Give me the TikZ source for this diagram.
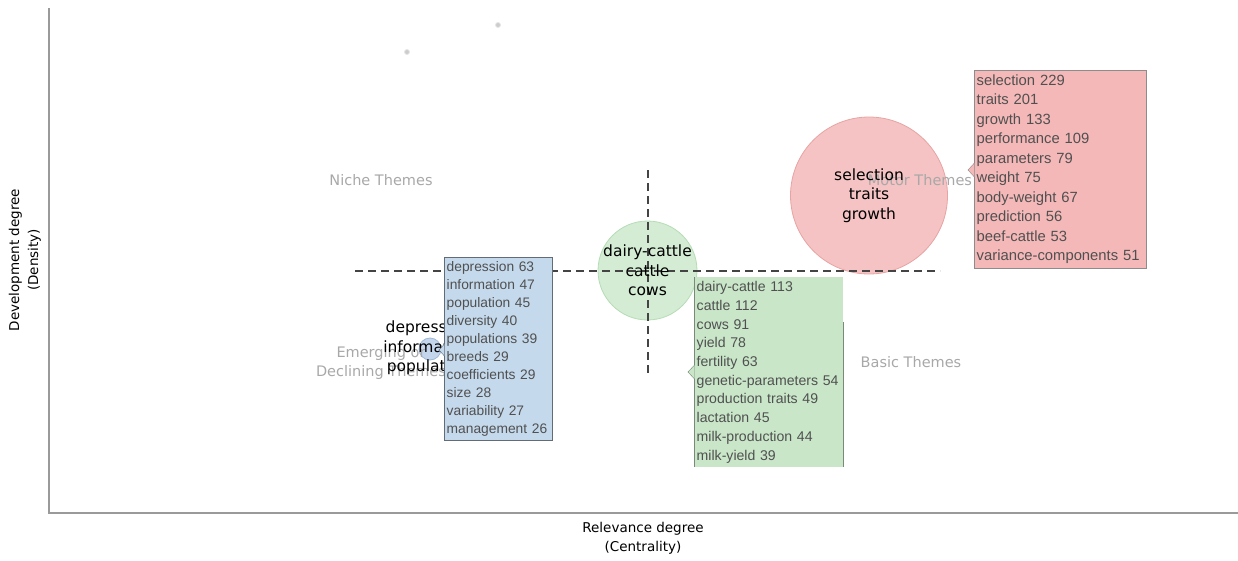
\documentclass[tikz,border=0pt]{standalone}
\usepackage{fontspec}
\setmainfont{Liberation Sans}
\newfontfamily\verd{DejaVu Sans}
\definecolor{axisgray}{HTML}{9A9A9A}
\definecolor{themegray}{HTML}{A8A8A8}
\definecolor{dashgray}{HTML}{444444}
\definecolor{tiptext}{HTML}{505050}
\definecolor{motorfill}{HTML}{F5C3C3}
\definecolor{motordraw}{HTML}{E8A3A3}
\definecolor{motorbox}{HTML}{F4B8B8}
\definecolor{basicfill}{HTML}{D3ECD3}
\definecolor{basicdraw}{HTML}{B6DCB6}
\definecolor{basicbox}{HTML}{C9E6C9}
\definecolor{emergfill}{HTML}{C3D6EC}
\definecolor{emergdraw}{HTML}{9FB8D6}
\definecolor{emergbox}{HTML}{C5D9EC}
\begin{document}
\begin{tikzpicture}[x=1pt,y=-1pt,
    theme/.style={text=themegray,font=\verd\fontsize{14.5}{19}\selectfont,align=center},
    bubble/.style={circle,inner sep=0pt,line width=0.8pt},
    bubbletext/.style={font=\verd\fontsize{15.5}{19.5}\selectfont,align=center},
    tipbox/.style={anchor=north west,inner xsep=2.5pt,inner ysep=3pt,align=left,text=tiptext},
    axislabel/.style={font=\verd\fontsize{13.5}{19}\selectfont,align=center}]
    \useasboundingbox (0,0) rectangle (1238,560);

    %Axes
    \coordinate (origin) at (49,513);
    \coordinate (ytop) at (49,8);
    \coordinate (xend) at (1238,513);
    \draw[axisgray,line width=1.5pt] (ytop) -- (origin) -- (xend);
    \node[axislabel,rotate=90] (ylabel) at (25,260) {Development degree\\(Density)};
    \node[axislabel] (xlabel) at (643,538) {Relevance degree\\(Centrality)};

    %Bubbles
    \node[bubble,fill=motorfill,draw=motordraw,minimum size=157] (motor) at (869,195.5) {};
    \node[bubble,fill=basicfill,draw=basicdraw,minimum size=99] (basic) at (647.5,270.5) {};
    \node[bubble,fill=emergfill,draw=emergdraw,minimum size=22] (emerg) at (430,349) {};
    \node[bubble,fill=black!20,draw=black!10,minimum size=5] (dotA) at (407,52) {};
    \node[bubble,fill=black!20,draw=black!10,minimum size=5] (dotB) at (498,25) {};

    %Quadrant names
    \node[theme] (niche) at (381,180) {Niche Themes};
    \node[theme] (motorname) at (920,180) {Motor Themes};
    \node[theme] (basicname) at (911,362) {Basic Themes};
    \node[theme] (emergname) at (381,363) {Emerging or\\Declining Themes};

    %Quadrant lines
    \coordinate (hl) at (355,271);
    \coordinate (hr) at (940,271);
    \coordinate (vt) at (648,170);
    \coordinate (vb) at (648,375);
    \draw[dashgray,line width=1.3pt,dash pattern=on 8pt off 5pt] (hl) -- (hr);
    \draw[dashgray,line width=1.3pt,dash pattern=on 8pt off 5pt] (vt) -- (vb);

    %Bubble labels
    \node[bubbletext] (motortext) at (motor) {selection\\traits\\growth};
    \node[bubbletext] (basictext) at (basic) {dairy-cattle\\cattle\\cows};
    \node[bubbletext] (emergtext) at (428,348) {depression\\information\\population};

    %Motor tooltip
    \node[tipbox,fill=motorbox,draw=black!45,text width=167,minimum height=198,
        font=\fontsize{14.8}{19.5}\selectfont] (motorbox) at (974,70)
        {selection 229\\traits 201\\growth 133\\performance 109\\parameters 79\\weight 75\\
         body-weight 67\\prediction 56\\beef-cattle 53\\variance-components 51};
    \filldraw[fill=motorbox,draw=black!45] (974.4,163) -- (968,170) -- (974.4,177);

    %Basic tooltip
    \node[tipbox,fill=basicbox,text width=144,minimum height=190,
        font=\fontsize{14.1}{18.7}\selectfont] (basicbox) at (694,277)
        {dairy-cattle 113\\cattle 112\\cows 91\\yield 78\\fertility 63\\genetic-parameters 54\\
         production traits 49\\lactation 45\\milk-production 44\\milk-yield 39};
    \draw[black!40!basicbox,line width=1pt] (basicbox.north west) -- (basicbox.south west);
    \draw[black!40!basicbox,line width=1pt] ([yshift=-45pt]basicbox.north east) -- (basicbox.south east);
    \filldraw[fill=basicbox,draw=black!40!basicbox] (694.5,365) -- (688,372) -- (694.5,379);

    %Emerging tooltip
    \node[tipbox,fill=emergbox,draw=black!50!emergbox,text width=103,minimum height=183,
        font=\fontsize{13.8}{18}\selectfont] (emergbox) at (444,257)
        {depression 63\\information 47\\population 45\\diversity 40\\populations 39\\breeds 29\\
         coefficients 29\\size 28\\variability 27\\management 26};
    \filldraw[fill=emergbox,draw=black!50!emergbox] (444.4,344) -- (439,350) -- (444.4,356);
\end{tikzpicture}
\end{document}
